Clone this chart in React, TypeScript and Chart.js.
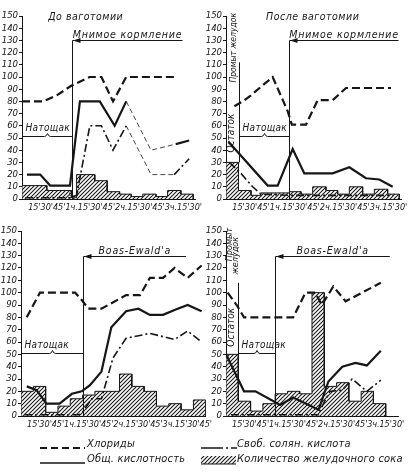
import React, { useEffect, useRef } from 'react';
import { Chart, registerables } from 'chart.js';

Chart.register(...registerables);

type Pt = [number, number];

const FAMILY = '"Liberation Sans Narrow", "DejaVu Sans Condensed", "DejaVu Sans", sans-serif';
const INK = '#161616';

// x tick labels, one per 15 minutes
const xTickLabels = ['', "15'", "30'", "45'", '1ч.', "15'", "30'", "45'", '2ч.', "15'", "30'", "45'", '3ч.', "15'", "30'", "45'"];

// ---------- Top-left: before vagotomy ----------
const tlChlorides: Pt[] = [[0, 80], [26, 80], [42, 85], [60, 93], [82, 100], [96, 100], [110, 80], [126, 100], [188, 100]];
const tlAcidity: Pt[] = [[6, 20], [22, 20], [34, 11], [58, 11], [70, 80], [94, 80], [112, 60], [126, 80], [156, 40], [186, 45], [202, 48]];
const tlHcl: Pt[] = [[4, 1], [58, 1], [66, 3], [82, 60], [96, 60], [110, 40], [126, 60], [156, 20], [184, 20], [202, 33]];
const tlBarEdges = [0, 15, 30, 45, 60, 66, 88, 103, 118, 132, 146, 162, 176, 192, 207];
const tlBarValues = [11, 11, 7, 7, 1, 20, 15, 6, 4, 2, 4, 2, 7, 4];

// ---------- Top-right: after vagotomy ----------
const trChlorides: Pt[] = [[10, 76], [20, 80], [30, 85], [42, 92], [56, 100], [74, 72], [79, 61], [96, 61], [110, 81], [128, 81], [144, 91], [198, 91]];
const trAcidity: Pt[] = [[3, 47], [50, 11], [62, 11], [80, 41], [94, 21], [128, 21], [148, 26], [168, 17], [184, 16], [200, 10]];
const trHcl: Pt[] = [[4, 30], [18, 21], [32, 10], [42, 4], [75, 3], [200, 3]];
const trBarEdges = [0, 15, 30, 42, 76, 90, 104, 120, 134, 148, 164, 178, 194, 208];
const trBarValues = [30, 7, 3, 5, 6, 4, 10, 7, 4, 10, 4, 8, 4];

// ---------- Bottom-left: Boas-Ewald ----------
const blChlorides: Pt[] = [[7, 80], [23, 100], [35, 100], [66, 100], [74, 94], [82, 87], [98, 87], [128, 98], [145, 98], [157, 112], [173, 112], [187, 120], [203, 112], [220, 122]];
const blAcidity: Pt[] = [[7, 24], [19, 21], [31, 10], [47, 10], [62, 18], [74, 20], [84, 25], [98, 36], [110, 72], [128, 85], [143, 87], [157, 82], [173, 82], [187, 86], [203, 90], [220, 85]];
const blHcl: Pt[] = [[4, 1], [70, 1], [74, 2], [86, 14], [98, 14], [112, 47], [128, 63], [157, 67], [187, 62], [203, 69], [220, 60]];
const blBarEdges = [0, 15, 30, 45, 60, 75, 90, 105, 120, 135, 150, 165, 180, 195, 210, 225];
const blBarValues = [20, 24, 3, 8, 14, 17, 20, 20, 34, 24, 20, 8, 10, 5, 13];

// ---------- Bottom-right: Boas-Ewald after vagotomy ----------
const brChlorides: Pt[] = [[2, 100], [13, 90], [22, 80], [82, 80], [97, 100], [109, 100], [117, 90], [131, 105], [146, 93], [189, 108]];
const brAcidity: Pt[] = [[0, 50], [22, 20], [36, 20], [58, 12], [66, 9], [82, 15], [113, 5], [125, 28], [142, 40], [158, 43], [172, 41], [189, 53]];
const brHcl: Pt[] = [[6, 1], [113, 1], [115, 5], [127, 20], [142, 21], [154, 30], [172, 20], [189, 29]];
const brBarEdges = [0, 15, 30, 45, 60, 75, 90, 105, 120, 135, 150, 165, 180, 195];
const brBarValues = [50, 12, 4, 10, 18, 20, 18, 100, 24, 27, 12, 20, 10];

interface Label { text: string; t: number; v: number; size?: number }
interface PanelCfg {
  left: number; top: number; width: number; height: number;
  axisW: number; padTop: number; padRight: number; xAxisH: number; xMax: number;
  chlorides: Pt[]; acidity: Pt[]; hcl: Pt[];
  barEdges: number[]; barValues: number[];
  thinAcidity?: [number, number]; thinHcl?: [number, number];
  title?: Label;
  feedT: number; feedEnd: number; feedLevel: number; feedLabel: string;
  fastStart: number; fastEnd: number; fastLevel: number;
  residue?: { boxTop: number; labels: Label[] };
  notes?: Label[];
}

const panels: PanelCfg[] = [
  {
    left: 0, top: 0, width: 205, height: 218, axisW: 22, padTop: 16, padRight: 8, xAxisH: 19, xMax: 210,
    chlorides: tlChlorides, acidity: tlAcidity, hcl: tlHcl, barEdges: tlBarEdges, barValues: tlBarValues,
    thinAcidity: [126, 186], thinHcl: [126, 184],
    title: { text: 'До ваготомии', t: 77, v: 150 },
    feedT: 60, feedEnd: 194, feedLevel: 130, feedLabel: 'Мнимое кормление',
    fastStart: 0, fastEnd: 60, fastLevel: 51.5,
    notes: [{ text: '0,5', t: 63, v: 4 }],
  },
  {
    left: 205, top: 0, width: 206, height: 218, axisW: 21, padTop: 16, padRight: 10, xAxisH: 19, xMax: 210,
    chlorides: trChlorides, acidity: trAcidity, hcl: trHcl, barEdges: trBarEdges, barValues: trBarValues,
    title: { text: 'После ваготомии', t: 104, v: 150 },
    feedT: 75, feedEnd: 207, feedLevel: 130, feedLabel: 'Мнимое кормление',
    fastStart: 15, fastEnd: 75, fastLevel: 52,
    residue: { boxTop: 112, labels: [{ text: 'Остаток', t: 6.5, v: 54, size: 10 }, { text: 'Промыт желудок', t: 9.5, v: 124, size: 8.5 }] },
  },
  {
    left: 0, top: 215, width: 215, height: 220, axisW: 21, padTop: 16, padRight: 9, xAxisH: 19, xMax: 225,
    chlorides: blChlorides, acidity: blAcidity, hcl: blHcl, barEdges: blBarEdges, barValues: blBarValues,
    feedT: 75, feedEnd: 201, feedLevel: 130, feedLabel: "Boas-Ewald'a",
    fastStart: 0, fastEnd: 75, fastLevel: 51,
  },
  {
    left: 205, top: 215, width: 206, height: 220, axisW: 21, padTop: 16, padRight: 13, xAxisH: 19, xMax: 210,
    chlorides: brChlorides, acidity: brAcidity, hcl: brHcl, barEdges: brBarEdges, barValues: brBarValues,
    feedT: 60, feedEnd: 200, feedLevel: 130, feedLabel: "Boas-Ewald'a",
    fastStart: 15, fastEnd: 60, fastLevel: 51,
    residue: { boxTop: 108, labels: [{ text: 'Остаток', t: 6, v: 72, size: 10 }, { text: 'Промыт', t: 4.3, v: 139, size: 9 }, { text: 'желудок', t: 11.5, v: 130, size: 9 }] },
  },
];

function makeHatch(ctx: CanvasRenderingContext2D) {
  const s = 4;
  const c = document.createElement('canvas');
  c.width = s; c.height = s;
  const g = c.getContext('2d')!;
  g.fillStyle = '#fff'; g.fillRect(0, 0, s, s);
  g.strokeStyle = '#1a1a1a'; g.lineWidth = 1.1;
  g.beginPath();
  g.moveTo(0, s); g.lineTo(s, 0);
  g.moveTo(-1, 1); g.lineTo(1, -1);
  g.moveTo(s - 1, s + 1); g.lineTo(s + 1, s - 1);
  g.stroke();
  return ctx.createPattern(c, 'repeat');
}

const toXY = (pts: Pt[]) => pts.map(([x, y]) => ({ x, y }));

function barOutline(edges: number[], vals: number[]) {
  const pts = [{ x: edges[0], y: 0 }];
  vals.forEach((v, i) => { pts.push({ x: edges[i], y: v }, { x: edges[i + 1], y: v }); });
  pts.push({ x: edges[edges.length - 1], y: 0 });
  return pts;
}

const inRange = (c: any, r?: [number, number]) => !!r && c.p0.parsed.x >= r[0] && c.p1.parsed.x <= r[1];

function Panel({ cfg }: { cfg: PanelCfg }) {
  const ref = useRef<HTMLCanvasElement>(null);
  useEffect(() => {
    const canvas = ref.current!;
    const ctx = canvas.getContext('2d')!;
    const hatch = makeHatch(ctx);

    const annot = {
      id: 'annot',
      afterDatasetsDraw(chart: any) {
        const { ctx: g, scales: { x, y } } = chart;
        const px = (t: number) => x.getPixelForValue(t);
        const py = (v: number) => y.getPixelForValue(v);
        const seg = (x1: number, y1: number, x2: number, y2: number) => {
          g.beginPath(); g.moveTo(x1, y1); g.lineTo(x2, y2); g.stroke();
        };
        g.save();
        g.strokeStyle = INK; g.fillStyle = INK; g.lineWidth = 1;
        // feeding / test line with arrow
        const fx = Math.round(px(cfg.feedT)) + 0.5;
        const fy = Math.round(py(cfg.feedLevel)) + 0.5;
        const ex = px(cfg.feedEnd);
        seg(fx, py(0), fx, fy);
        seg(fx, fy, ex, fy);
        g.beginPath(); g.moveTo(fx + 0.5, fy); g.lineTo(fx + 8, fy - 2.5); g.lineTo(fx + 8, fy + 2.5); g.closePath(); g.fill();
        g.font = `italic 10.5px ${FAMILY}`;
        (g as any).letterSpacing = '0.8px';
        g.textAlign = 'center'; g.textBaseline = 'alphabetic';
        g.fillText(cfg.feedLabel, (fx + ex) / 2, fy - 3);
        // fasting brace
        const sx = Math.round(px(cfg.fastStart)) + 0.5;
        const sx2 = Math.round(px(cfg.fastEnd)) + 0.5;
        const by = Math.round(py(cfg.fastLevel)) + 0.5;
        const mid = (sx + sx2) / 2;
        g.beginPath();
        g.moveTo(sx, by + 3); g.lineTo(sx, by); g.lineTo(mid - 3, by);
        g.quadraticCurveTo(mid - 1, by, mid, by - 3);
        g.quadraticCurveTo(mid + 1, by, mid + 3, by);
        g.lineTo(sx2, by); g.lineTo(sx2, by + 3);
        g.stroke();
        g.font = `italic 10px ${FAMILY}`;
        (g as any).letterSpacing = '0.3px';
        g.textAlign = 'left';
        g.fillText('Натощак', sx + 3, by - 6);
        // title
        if (cfg.title) {
          g.font = `italic 10.5px ${FAMILY}`;
          (g as any).letterSpacing = '0.5px';
          g.textAlign = 'center'; g.textBaseline = 'middle';
          g.fillText(cfg.title.text, px(cfg.title.t), py(cfg.title.v) + 1);
        }
        (g as any).letterSpacing = '0px';
        // residue box with vertical labels
        if (cfg.residue) {
          const rx = Math.round(px(cfg.barEdges[1])) + 0.5;
          seg(rx, py(cfg.barValues[0]), rx, py(cfg.residue.boxTop));
          g.textAlign = 'center'; g.textBaseline = 'middle';
          cfg.residue.labels.forEach((l) => {
            g.font = `italic ${l.size ?? 10}px ${FAMILY}`;
            g.save();
            g.translate(px(l.t), py(l.v));
            g.rotate(-Math.PI / 2);
            g.fillText(l.text, 0, 0);
            g.restore();
          });
        }
        if (cfg.notes) {
          g.font = `italic 7px ${FAMILY}`;
          g.textAlign = 'center'; g.textBaseline = 'middle';
          cfg.notes.forEach((n) => g.fillText(n.text, px(n.t), py(n.v)));
        }
        g.restore();
      },
    };

    const chart = new Chart(canvas, {
      type: 'line',
      data: {
        datasets: [
          {
            label: 'Количество желудочного сока',
            data: barOutline(cfg.barEdges, cfg.barValues),
            borderColor: INK, borderWidth: 1, backgroundColor: hatch as any,
            fill: 'origin', pointRadius: 0, tension: 0, order: 10,
          },
          {
            label: 'Хлориды',
            data: toXY(cfg.chlorides),
            borderColor: INK, borderWidth: 2.2, borderDash: [8, 4],
            fill: false, pointRadius: 0, tension: 0, order: 1,
          },
          {
            label: 'Общ. кислотность',
            data: toXY(cfg.acidity),
            borderColor: INK, borderWidth: 2.2,
            fill: false, pointRadius: 0, tension: 0, order: 1,
            segment: {
              borderWidth: (c: any) => (inRange(c, cfg.thinAcidity) ? 0.8 : undefined),
              borderDash: (c: any) => (inRange(c, cfg.thinAcidity) ? [5, 3] : undefined),
            },
          },
          {
            label: 'Своб. солян. кислота',
            data: toXY(cfg.hcl),
            borderColor: INK, borderWidth: 1.6, borderDash: [8, 3, 2, 3],
            fill: false, pointRadius: 0, tension: 0, order: 1,
            segment: {
              borderWidth: (c: any) => (inRange(c, cfg.thinHcl) ? 0.8 : undefined),
              borderDash: (c: any) => (inRange(c, cfg.thinHcl) ? [5, 3] : undefined),
            },
          },
        ],
      },
      options: {
        animation: false,
        responsive: false,
        events: [],
        layout: { padding: { top: cfg.padTop, right: cfg.padRight, left: 0, bottom: 0 } },
        plugins: { legend: { display: false }, tooltip: { enabled: false }, title: { display: false } },
        scales: {
          x: {
            type: 'linear', min: 0, max: cfg.xMax,
            afterFit: (s: any) => { s.height = cfg.xAxisH; },
            grid: { display: false, drawTicks: false },
            border: { display: true, color: INK, width: 1 },
            ticks: {
              stepSize: 15, autoSkip: false, maxRotation: 0, minRotation: 0, padding: 3,
              color: INK, font: { family: FAMILY, size: 9, style: 'italic' },
              callback: (v: any) => xTickLabels[Math.round(Number(v) / 15)] ?? '',
            },
          },
          y: {
            min: 0, max: 150,
            afterFit: (s: any) => { s.width = cfg.axisW; },
            grid: { display: true, drawOnChartArea: false, drawTicks: true, tickLength: 3, color: INK },
            border: { display: true, color: INK, width: 1 },
            ticks: {
              stepSize: 10, autoSkip: false, padding: 1, color: INK,
              font: { family: FAMILY, size: 9.5, style: 'italic' },
            },
          },
        },
      },
      plugins: [annot],
    } as any);
    return () => chart.destroy();
  }, [cfg]);
  return (
    <canvas
      ref={ref}
      width={cfg.width}
      height={cfg.height}
      style={{ position: 'absolute', left: cfg.left, top: cfg.top, width: cfg.width, height: cfg.height }}
    />
  );
}

function Legend() {
  const txt: React.CSSProperties = {
    position: 'absolute', fontFamily: FAMILY, fontStyle: 'italic', fontSize: 11,
    lineHeight: '14px', letterSpacing: '0.2px', color: INK, whiteSpace: 'nowrap',
  };
  return (
    <>
      <svg style={{ position: 'absolute', left: 40, top: 443 }} width={45} height={8}>
        <line x1={0} y1={5} x2={45} y2={5} stroke={INK} strokeWidth={1.8} strokeDasharray="7 4" />
      </svg>
      <div style={{ ...txt, left: 87, top: 437 }}>Хлориды</div>
      <svg style={{ position: 'absolute', left: 201, top: 443 }} width={36} height={8}>
        <line x1={0} y1={5} x2={36} y2={5} stroke={INK} strokeWidth={1.4} strokeDasharray="22 3 2 3" />
      </svg>
      <div style={{ ...txt, left: 237, top: 437 }}>Своб. солян. кислота</div>
      <svg style={{ position: 'absolute', left: 40, top: 458 }} width={45} height={8}>
        <line x1={0} y1={5} x2={45} y2={5} stroke={INK} strokeWidth={1.6} />
      </svg>
      <div style={{ ...txt, left: 87, top: 452 }}>Общ. кислотность</div>
      <svg style={{ position: 'absolute', left: 201, top: 455 }} width={35} height={10}>
        <defs>
          <pattern id="lh" width={4} height={4} patternUnits="userSpaceOnUse">
            <path d="M0,4 L4,0 M-1,1 L1,-1 M3,5 L5,3" stroke={INK} strokeWidth={1.1} />
          </pattern>
        </defs>
        <rect x={0} y={1} width={35} height={8} fill="url(#lh)" />
        <line x1={0} y1={9} x2={35} y2={9} stroke={INK} strokeWidth={1} />
      </svg>
      <div style={{ ...txt, left: 237, top: 452 }}>Количество желудочного сока</div>
    </>
  );
}

export default function App() {
  return (
    <div style={{ position: 'absolute', left: 0, top: 0, width: 411, height: 473, background: '#fff', overflow: 'hidden' }}>
      {panels.map((p, i) => <Panel key={i} cfg={p} />)}
      <Legend />
    </div>
  );
}
